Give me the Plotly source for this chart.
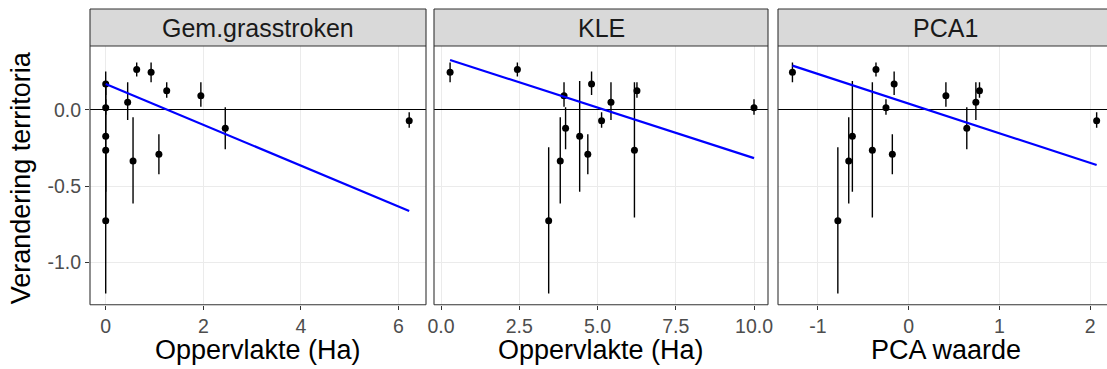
import plotly.graph_objects as go

# ---------------- data ----------------
panels = ["Gem.grasstroken", "KLE", "PCA1"]
x_titles = ["Oppervlakte (Ha)", "Oppervlakte (Ha)", "PCA waarde"]
y_title = "Verandering territoria"

gras_x = [0, 0, 0, 0, 0, 0.45, 0.56, 0.635, 0.93, 1.09, 1.25, 1.95, 2.45, 6.22]
kle_x = [4.81, 10.0, 4.43, 6.18, 3.44, 5.43, 3.81, 2.44, 0.29, 4.69, 6.26, 3.93, 3.98, 5.13]
pca_x = [-0.16, -0.25, -0.62, -0.40, -0.78, 0.74, -0.66, -0.36, -1.28, -0.18, 0.78, 0.41, 0.64, 2.07]
change = [0.171, 0.015, -0.173, -0.265, -0.727, 0.050, -0.335, 0.265, 0.247, -0.291, 0.127, 0.094, -0.120, -0.070]
lower = [0.098, -0.031, -0.536, -0.705, -1.204, -0.066, -0.613, 0.219, 0.182, -0.422, 0.081, 0.022, -0.258, -0.116]
upper = [0.252, 0.070, 0.190, 0.182, -0.245, 0.182, -0.048, 0.311, 0.311, -0.160, 0.182, 0.182, 0.018, -0.015]

# fitted regression lines (endpoints)
gras_fit_x = [0, 6.22]
gras_fit_y = [0.171, -0.663]
kle_fit_x = [0.29, 10.0]
kle_fit_y = [0.328, -0.316]
pca_fit_x = [-1.28, 2.07]
pca_fit_y = [0.291, -0.361]

x_ticks = [[0, 2, 4, 6], [0, 2.5, 5, 7.5, 10], [-1, 0, 1, 2]]
x_ticktext = [["0", "2", "4", "6"], ["0.0", "2.5", "5.0", "7.5", "10.0"], ["-1", "0", "1", "2"]]
y_ticks = [-1.0, -0.5, 0.0]
y_ticktext = ["-1.0", "-0.5", "0.0"]

# ---------------- layout helpers ----------------
W, H = 1107, 369
def px(v):
    return min(v, W) / W
def py(v):
    return 1 - v / H

panel_px = [(90, 426), (434, 768), (778, 1113)]
top_px, bot_px, strip_top = 46, 304.7, 9
x_ranges = [[-0.322, 6.564], [-0.224, 10.447], [-1.439, 2.184]]
y_range = [-1.278, 0.420]

FONT = "Liberation Sans, Arial, sans-serif"
GRID = "#EBEBEB"
BORDER = "#333333"

fig = go.Figure()

xs = [gras_x, kle_x, pca_x]
fits = [(gras_fit_x, gras_fit_y), (kle_fit_x, kle_fit_y), (pca_fit_x, pca_fit_y)]
err_plus = [u - c for u, c in zip(upper, change)]
err_minus = [c - l for c, l in zip(change, lower)]

for i in range(3):
    xa = "x" if i == 0 else f"x{i+1}"
    ya = "y" if i == 0 else f"y{i+1}"
    fig.add_trace(go.Scatter(
        x=xs[i], y=change, mode="markers", xaxis=xa, yaxis=ya,
        marker=dict(color="black", size=7),
        error_y=dict(type="data", array=err_plus, arrayminus=err_minus,
                     width=0, thickness=1.4, color="black"),
        showlegend=False))
    fig.add_trace(go.Scatter(
        x=fits[i][0], y=fits[i][1], mode="lines", xaxis=xa, yaxis=ya,
        line=dict(color="#0000FF", width=2.2), showlegend=False))

layout = dict(
    width=W, height=H, autosize=False, margin=dict(l=0, r=0, t=0, b=0, pad=0),
    paper_bgcolor="white", plot_bgcolor="white",
    font=dict(family=FONT, color="black"),
)

shapes = []
annotations = []

def seg(x0, y0, x1, y1):
    return dict(type="line", xref="paper", yref="paper",
                x0=px(x0), x1=px(x1), y0=py(y0), y1=py(y1),
                line=dict(color=BORDER, width=1.1), layer="above")

for i in range(3):
    l, r = panel_px[i]
    xkey = "xaxis" if i == 0 else f"xaxis{i+1}"
    ykey = "yaxis" if i == 0 else f"yaxis{i+1}"
    ya = "y" if i == 0 else f"y{i+1}"
    xa = "x" if i == 0 else f"x{i+1}"
    layout[xkey] = dict(
        domain=[px(l), px(r)], anchor=ya, range=x_ranges[i],
        tickvals=x_ticks[i], ticktext=x_ticktext[i],
        showgrid=True, gridcolor=GRID, gridwidth=1.1, zeroline=False,
        showline=False, ticks="outside", ticklen=4, tickwidth=1.1, tickcolor=BORDER,
        tickfont=dict(size=19.5, color="#4D4D4D", family=FONT),
        automargin=False, fixedrange=True)
    layout[ykey] = dict(
        domain=[py(bot_px), py(top_px)], anchor=xa, range=y_range,
        tickvals=y_ticks, ticktext=y_ticktext,
        showgrid=True, gridcolor=GRID, gridwidth=1.1,
        zeroline=True, zerolinecolor="black", zerolinewidth=1.1,
        showline=False,
        ticks="outside" if i == 0 else "", ticklen=4, tickwidth=1.1, tickcolor=BORDER,
        showticklabels=(i == 0),
        tickfont=dict(size=19.5, color="#4D4D4D", family=FONT),
        automargin=False, fixedrange=True)
    # strip fill
    shapes.append(dict(type="rect", xref="paper", yref="paper",
                       x0=px(l), x1=px(r), y0=py(top_px), y1=py(strip_top),
                       line=dict(width=0), fillcolor="#D9D9D9", layer="above"))
    # borders (panel + strip); right side only when inside the page
    shapes.append(seg(l, strip_top, r, strip_top))
    shapes.append(seg(l, top_px, r, top_px))
    shapes.append(seg(l, bot_px, r, bot_px))
    shapes.append(seg(l, strip_top, l, bot_px))
    if r <= W:
        shapes.append(seg(r, strip_top, r, bot_px))
    annotations.append(dict(text=panels[i], xref="paper", yref="paper",
                            x=(l + r) / 2 / W, y=py((strip_top + top_px) / 2),
                            xanchor="center", yanchor="middle", showarrow=False,
                            font=dict(size=25, color="#1A1A1A", family=FONT)))
    annotations.append(dict(text=x_titles[i], xref="paper", yref="paper",
                            x=(l + r) / 2 / W, y=py(350),
                            xanchor="center", yanchor="middle", showarrow=False,
                            font=dict(size=27, color="black", family=FONT)))

annotations.append(dict(text=y_title, xref="paper", yref="paper",
                        x=px(21), y=py((top_px + bot_px) / 2 + 3), textangle=-90,
                        xanchor="center", yanchor="middle", showarrow=False,
                        font=dict(size=27, color="black", family=FONT)))

layout["shapes"] = shapes
layout["annotations"] = annotations
fig.update_layout(**layout)

fig.write_html("out.html", config={"responsive": False, "displayModeBar": False},
               default_width="1107px", default_height="369px")
